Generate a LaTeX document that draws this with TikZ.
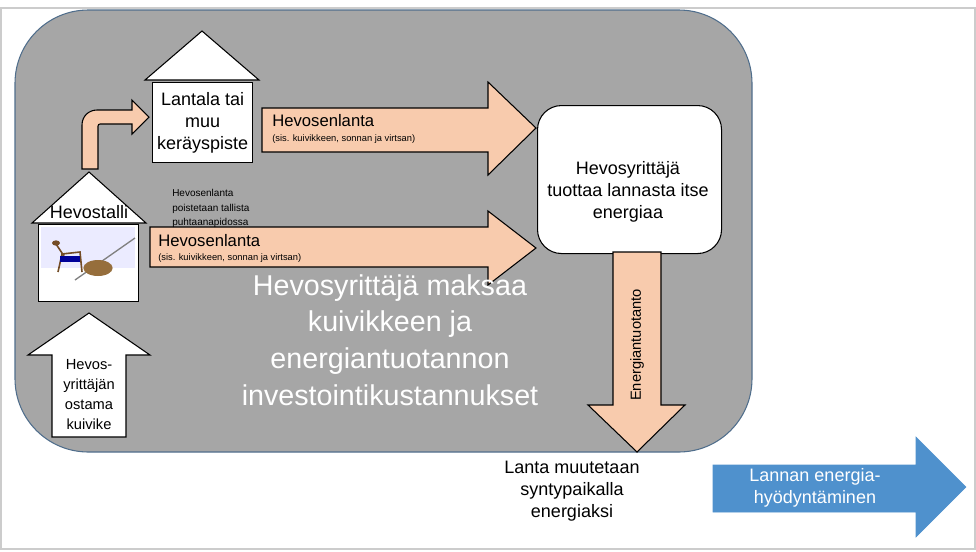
\documentclass[tikz,border=0pt]{standalone}
\usepackage{fontspec}
\setmainfont{Liberation Sans}
\definecolor{peachc}{RGB}{248,203,173}
\definecolor{areac}{RGB}{166,166,166}
\definecolor{aread}{RGB}{80,110,140}
\definecolor{dung}{RGB}{150,110,60}
\definecolor{bluec}{RGB}{79,145,205}
\begin{document}
\begin{tikzpicture}[x=0.75pt,y=-0.75pt,
  peach/.style={fill=peachc,draw=black,line width=0.8pt},
  whiteshape/.style={fill=white,draw=black,line width=0.8pt},
  lbl/.style={align=center,inner sep=0pt,font=\fontsize{13.5}{16.5}\selectfont}]
\useasboundingbox (0,0) rectangle (976,551);
\draw[gray!40,line width=1pt] (1,8) rectangle (975,549);
% big rounded area
\draw[fill=areac,draw=aread,line width=0.8pt,rounded corners=55pt] (15,10) rectangle (752,452);
% Lantala house
\draw[whiteshape] (145,80) -- (202,31) -- (259,80) -- cycle;
\node[whiteshape,minimum width=100*0.75pt,minimum height=80*0.75pt,anchor=north west,inner sep=0pt] (lantala) at (152,82) {};
\node[lbl] (lantalat) at (lantala.center) {Lantala tai\\muu\\keräyspiste};
% Hevostalli house
\draw[whiteshape] (32,223) -- (89,172) -- (146,223) -- cycle;
\node[lbl] (talli) at (89,212) {Hevostalli};
\node[whiteshape,minimum width=100*0.75pt,minimum height=77*0.75pt,anchor=north west,inner sep=0pt] (photo) at (38,224) {};
\fill[blue!8] (41,227) rectangle (135,268);
\fill[white] (41,268) rectangle (135,297);
\draw[gray,line width=1pt] (75,280) -- (135,238);
\draw[brown!60!black,line width=1.2pt] (58,272) -- (62,254) -- (80,252) -- (82,272) (64,256) -- (56,244);
\fill[brown!60!black] (56,243) ellipse (3pt and 2pt);
\fill[blue!60!black] (60,256) rectangle (80,262);
\fill[dung] (98,268) ellipse (11pt and 6pt);
% curved arrow
\draw[peach] (82,169) -- (82,125) .. controls (82,116) and (89,110) .. (97,110) -- (132,110) -- (132,100) -- (149,117) -- (132,134) -- (132,124) -- (100,124) .. controls (99,124) and (98,125) .. (98,126) -- (98,169) -- cycle;
% top arrow
\draw[peach] (262,108) -- (488,108) -- (488,82) -- (536,128) -- (488,175) -- (488,152) -- (262,152) -- cycle;
\node[anchor=west,inner sep=0pt,font=\fontsize{12.5}{14}\selectfont] (h1) at (272,121) {Hevosenlanta};
\node[anchor=west,inner sep=0pt,font=\fontsize{7}{8}\selectfont] (s1) at (272,139) {(sis. kuivikkeen, sonnan ja virtsan)};
% lower arrow
\draw[peach] (150,227) -- (488,227) -- (488,211) -- (536,248) -- (488,285) -- (488,267) -- (150,267) -- cycle;
\node[anchor=west,inner sep=0pt,font=\fontsize{12.5}{14}\selectfont] (h2) at (158,241) {Hevosenlanta};
\node[anchor=west,inner sep=0pt,font=\fontsize{7}{8}\selectfont] (s2) at (158,258) {(sis. kuivikkeen, sonnan ja virtsan)};
% small text
\node[anchor=north west,align=left,inner sep=0pt,font=\fontsize{7.5}{11}\selectfont] (poist) at (172,189) {Hevosenlanta\\poistetaan tallista\\puhtaanapidossa};
% right box
\node[whiteshape,rounded corners=18pt,minimum width=184*0.75pt,minimum height=148*0.75pt,anchor=north west] (prod) at (537,105) {};
\node[lbl] (prodt) at (628,192) {Hevosyrittäjä\\tuottaa lannasta itse\\energiaa};
% down arrow
\draw[peach] (613,252) -- (661,252) -- (661,405) -- (685,405) -- (637,452) -- (588,405) -- (613,405) -- cycle;
\node[rotate=90,inner sep=0pt,font=\fontsize{11}{13}\selectfont] (et) at (637,345) {Energiantuotanto};
% up arrow
\draw[whiteshape] (52,437) -- (52,355) -- (28,355) -- (89,313) -- (150,355) -- (126,355) -- (126,437) -- cycle;
\node[lbl,font=\fontsize{11}{15}\selectfont] (kuiv) at (89,395) {Hevos-\\yrittäjän\\ostama\\kuivike};
% big white text
\node[align=center,text=white,inner sep=0pt,font=\fontsize{21.5}{27.5}\selectfont] (maksaa) at (390,340) {Hevosyrittäjä maksaa\\kuivikkeen ja\\energiantuotannon\\investointikustannukset};
% bottom text
\node[lbl] (lanta) at (572,491) {Lanta muutetaan\\syntypaikalla\\energiaksi};
% blue arrow
\draw[fill=bluec,draw=bluec] (713,465) -- (916,465) -- (916,437) -- (966,487) -- (916,537) -- (916,512) -- (713,512) -- cycle;
\node[lbl,text=white] (lannan) at (815,488) {Lannan energia-\\hyödyntäminen};
\end{tikzpicture}
\end{document}
